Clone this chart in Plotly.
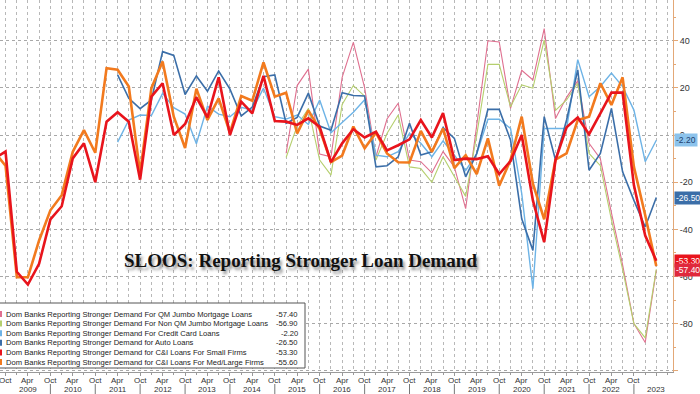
import pandas as pd
import plotly.graph_objects as go

# Quarterly SLOOS survey dates (Jul 2008 .. Apr 2023)
dates = pd.date_range("2008-07-01", periods=60, freq="QS-JAN")

N = None
ci_small = [-10, -7, -58, -63.4, -54.6, -35.8, -30.2, -9.9, -3.5, -20, 5.7,
            9.7, 5.7, -18.9, 16.3, 22, 0, 4.7, 16, 7.5, 24.5,
            0, 14.2, 9.2, 25.1, 6, 5.7, 4.3, 7.1, 3.5, -11.5,
            -3.5, 2.5, -1, 1.4, -6.5, -4.3, -1.8, 6.4, -1, 9.3,
            -10.6, -10, -10.2, -9, -16.5, -11, 0, -27.7, -45.4, -10.6,
            3.3, 7.5, 0.4, 9.2, 18, 18, -21.3, -42.6, -53.3]
ci_large = [-7, -13, -60.3, -60.3, -44.7, -31.9, -25.5, -7.1, 2.1, -7.5, 28.4,
            27.7, 20.6, -16, 19.9, 31.2, 7.8, -5.5, 19.7, 6.4, 15.6,
            1, 16.6, 14.6, 30.8, 16.3, 18, 0.7, 10.5, 2.5, -11.5,
            -8.7, 3.6, -5.6, 1, -7.8, -11.5, -11.6, 1.8, -7.1, 2.8,
            -14, -8.5, -16.6, -1.4, -21.5, -10.6, 7.8, -20.6, -35.7, -10.4,
            -7.8, 6.4, 7.8, 22, 12.8, 24.5, -13.5, -34, -55.6]
auto = [N] * 11 + [25.5, 15.6, 11.2, 14.9, 35.4, 33.8, 17.2, 25.1, 18.6, 27.2,
                   19.5, 8.1, 11.9, 24.8, 25.5, 5, 7.5, 17.8, 3.8, 2.1,
                   18, 16.8, 16.6, -13.5, -13, -9.2, 5, -8.5, -7.1, 3.2,
                   -1.4, -17.7, -7.8, 10.9, 10.9, -2.1, -35.5, -48.9, 7.8, -10.6,
                   6.4, 27.7, -14.9, -7.8, 11.3, -15.6, -27.7, -39, -26.5]
credit_card = [N] * 11 + [-3, 6.4, 8.5, 8.3, 17.7, 11.6, 8.9, -3.7, 12.3, 8.9,
                          7.8, 11.8, 10.6, 19.9, 7.8, 6.8, 8.5, 4.5, 14.9, 1,
                          5.3, 9.7, 15, -8.5, -9.2, -7, 0.7, -3.5, -9.2, -2.5,
                          -8.5, -15, -8, 6.7, 6.7, 2.8, -24.7, -65.2, 2.8, 2.8,
                          2.8, 32, 16.3, 20.6, 26.3, 20.6, 10.6, -11.3, -2.2]
qm_jumbo = [N] * 26 + [-7.7, 21, 28, -8, -9.2,
                       24.5, 39.3, 20, -9.2, 6.8, 13.5, -10.6, -11.3, -16, -7,
                       -13.5, -31.2, 5, 40, 39.5, 11.3, 27.5, 23.4, 45.2, 7,
                       16, 23, -3.5, -10, -33, -55, -80, -88, -57.4]
non_qm_jumbo = [N] * 26 + [-9.5, 4, 11.3, -10.6, -17,
                           13, 21, 16.5, -10.6, 0.7, 8.5, -13.5, -14.2, -20, -9.2,
                           -17.7, -26, 0, 30, 30, 12, 21.3, 19.9, 40.4, 10.5,
                           14.9, 22, -7.8, -13, -36, -57, -80, -86, -56.9]

series_names = [
    "Dom Banks Reporting Stronger Demand For QM Jumbo Mortgage Loans",
    "Dom Banks Reporting Stronger Demand For Non QM Jumbo Mortgage Loans",
    "Dom Banks Reporting Stronger Demand For Credit Card Loans",
    "Dom Banks Reporting Stronger Demand for Auto Loans",
    "Dom Banks Reporting Stronger Demand for C&I Loans For Small Firms",
    "Dom Banks Reporting Stronger Demand for C&I Loans For Med/Large Firms",
]
series_values = [qm_jumbo, non_qm_jumbo, credit_card, auto, ci_small, ci_large]
series_colors = ["#df6f8f", "#b5cf6e", "#6db3e6", "#3b6ea8", "#e8141c", "#f27a1e"]
series_widths = [1.1, 1.1, 1.4, 1.6, 2.6, 2.6]

y_ticks = [40, 20, 0, -20, -40, -60, -80]
years = list(range(2009, 2024))
month_ticks = pd.date_range("2008-10-01", "2022-10-01", freq="6MS")
badge_series = [2, 3, 4, 0]  # indices of series shown with right-axis badges
badge_text_colors = ["#1d3f6e", "white", "white", "white"]
badge_bg = ["#8cc3ec", "#3b6ea8", "#e8141c", "#e0283c"]

fig = go.Figure()
draw_order = [0, 1, 2, 3, 5, 4]
for i in draw_order:
    fig.add_trace(go.Scatter(
        x=dates, y=series_values[i], mode="lines", name=series_names[i],
        line=dict(color=series_colors[i], width=series_widths[i]),
        connectgaps=False, showlegend=False, hoverinfo="skip"))

X0 = pd.Timestamp("2008-08-17")
X1 = pd.Timestamp("2023-08-15")
PW, PH = 673.0, 372.0  # plot area size in px

fig.update_layout(
    width=700, height=394,
    margin=dict(l=0, r=27, t=0, b=22),
    paper_bgcolor="white", plot_bgcolor="white",
    font=dict(family="Liberation Sans, Arial, sans-serif", size=9, color="#333"),
    xaxis=dict(
        type="date", range=[X0, X1],
        tick0="2008-10-01", dtick="M6", showticklabels=False,
        ticks="outside", ticklen=3, tickcolor="#999",
        showline=True, linecolor="#999", linewidth=1,
        showgrid=True, gridcolor="#b8b8b8", griddash="dot", gridwidth=1,
        minor=dict(dtick="M3", tick0="2008-10-01", showgrid=True,
                   gridcolor="#b8b8b8", griddash="dot", ticks="outside",
                   ticklen=2, tickcolor="#999"),
        zeroline=False,
    ),
    yaxis=dict(
        side="right", range=[-100.5, 57.3],
        tickvals=y_ticks + [-100], ticktext=[str(v) for v in y_ticks] + [""],
        ticks="outside", ticklen=4, tickcolor="#e3a877",
        showline=True, linecolor="#e3a877", linewidth=1,
        showgrid=True, gridcolor="#a8a8a8", griddash="dot", gridwidth=1,
        zeroline=False,
        minor=dict(dtick=10, ticks="outside", ticklen=2, tickcolor="#e3a877",
                   showgrid=False),
        tickfont=dict(size=9, color="#333"),
    ),
)

annotations = []
shapes = []

# Month tick labels (Oct / Apr) and year labels
for d in month_ticks:
    annotations.append(dict(x=d, xref="x", y=(PH - 380) / PH, yref="paper",
                            text=d.strftime("%b"), showarrow=False, yanchor="middle",
                            font=dict(size=8, color="#333")))
for yr in years:
    annotations.append(dict(x=pd.Timestamp(f"{yr}-04-01"), xref="x", y=(PH - 389) / PH,
                            yref="paper", text=str(yr), showarrow=False, yanchor="middle",
                            font=dict(size=8, color="#333")))
for yr in range(2009, 2023):
    shapes.append(dict(type="line", xref="x", yref="paper",
                       x0=pd.Timestamp(f"{yr}-10-01"), x1=pd.Timestamp(f"{yr}-10-01"),
                       y0=(PH - 384) / PH, y1=(PH - 394) / PH,
                       line=dict(color="#777", width=1)))

# Title with soft shadow
title = "<b>SLOOS: Reporting Stronger Loan Demand</b>"
tx, ty = 300 / PW, (PH - 260) / PH
annotations.append(dict(x=tx, y=ty, xref="paper", yref="paper", text=title, showarrow=False,
                        xanchor="center", yanchor="middle",
                        font=dict(family="Liberation Serif, Times New Roman, serif", size=19,
                                  color="#111",
                                  shadow="2px 3px 3px rgba(0,0,0,0.45)")))

# Custom legend box
shapes.append(dict(type="rect", xref="paper", yref="paper", layer="above",
                   x0=-0.01, x1=305 / PW, y0=(PH - 368) / PH, y1=(PH - 303) / PH,
                   fillcolor="white", line=dict(color="#555", width=1)))
row_y = [314, 323.6, 333.2, 342.8, 352.4, 362]
for i, name in enumerate(series_names):
    yy = (PH - row_y[i]) / PH
    shapes.append(dict(type="rect", xref="paper", yref="paper", layer="above",
                       x0=-0.01, x1=2 / PW, y0=yy - 3 / PH, y1=yy + 3 / PH,
                       fillcolor=series_colors[i], line=dict(width=0)))
    annotations.append(dict(x=4 / PW, y=yy, xref="paper", yref="paper",
                            text=name.replace("&", "&amp;"), showarrow=False,
                            xanchor="left", yanchor="middle",
                            font=dict(size=7.6, color="#222")))
    annotations.append(dict(x=300 / PW, y=yy, xref="paper", yref="paper",
                            text=f"{series_values[i][-1]:.2f}", showarrow=False,
                            xanchor="right", yanchor="middle",
                            font=dict(size=7.6, color="#222")))

# Right-axis value badges
for k, si in enumerate(badge_series):
    annotations.append(dict(x=1.0, y=series_values[si][-1], xref="paper", yref="y",
                            text=f"{series_values[si][-1]:.2f}", showarrow=False,
                            xanchor="left", yanchor="middle", xshift=1,
                            bgcolor=badge_bg[k], borderpad=1,
                            font=dict(size=8.5, color=badge_text_colors[k])))

fig.update_layout(annotations=annotations, shapes=shapes)
fig.write_html("out.html", config={"displayModeBar": False},
               post_script="document.body.style.margin='0px';document.body.style.overflow='hidden';")
